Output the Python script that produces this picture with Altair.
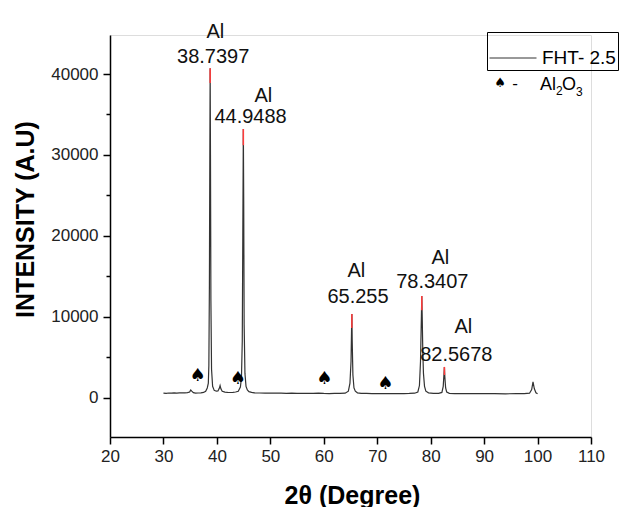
import altair as alt
import pandas as pd

# XRD pattern
two_theta = [30.0, 30.5, 31.0, 31.5, 32.0, 32.5, 33.0, 33.5, 34.0, 34.5, 34.9, 35.1, 35.3, 35.6,
             36.0, 36.5, 37.0, 37.5, 37.9, 38.2, 38.4, 38.5, 38.6, 38.68, 38.74, 38.8, 38.88,
             39.0, 39.2, 39.5,
             39.9, 40.2, 40.45, 40.6, 40.75, 41.0, 41.5, 42.0, 42.5, 43.0, 43.5, 44.0, 44.4,
             44.6, 44.75, 44.85, 44.95, 45.02, 45.1, 45.25, 45.45, 45.7, 46.0, 46.5, 47.0,
             48.0, 49.0, 50.0,
             51.0, 52.0, 53.0, 54.0, 55.0, 56.0, 57.0, 58.0, 59.0, 60.0, 61.0, 62.0, 63.0,
             64.0, 64.6, 64.9, 65.1, 65.2, 65.255, 65.32, 65.45, 65.65, 65.9, 66.3, 67.0,
             68.0, 69.0, 70.0,
             71.0, 72.0, 73.0, 74.0, 75.0, 76.0, 77.0, 77.6, 77.9, 78.1, 78.25, 78.34, 78.42,
             78.52, 78.65, 78.85, 79.1, 79.6, 80.5, 81.5, 82.1, 82.35, 82.5, 82.57, 82.65,
             82.8, 83.0, 83.5, 84.5,
             86.0, 88.0, 90.0, 92.0, 94.0, 96.0, 97.5, 98.5, 98.9, 99.15, 99.4, 99.7, 100.0]
intensity = [560, 540, 580, 560, 600, 570, 590, 610, 600, 620, 700, 950, 800, 620,
             560, 580, 600, 650, 800, 1200, 1800, 4000, 14000, 30000, 40700, 30000, 12000,
             3500, 1400, 900,
             800, 820, 1150, 1500, 1100, 800, 680, 650, 640, 660, 700, 800, 1300,
             2500, 7000, 20000, 33200, 24000, 9000, 3000, 1400, 950, 750, 650, 600,
             580, 560, 570,
             550, 560, 540, 550, 540, 520, 530, 520, 560, 520, 500, 520, 530,
             560, 800, 1800, 4500, 8500, 10350, 7000, 2800, 1200, 800, 600, 540,
             520, 510, 500,
             510, 500, 510, 500, 510, 520, 550, 700, 1500, 4500, 9500, 12560, 10000,
             6000, 3000, 1400, 800, 600, 540, 530, 650, 1400, 3000, 3800, 2600,
             1200, 700, 540, 510,
             500, 490, 500, 490, 480, 490, 500, 550, 1000, 1940, 1100, 600, 470]
series_name = "FHT- 2.5"

# labelled Al peaks
peak_pos = [38.74, 44.95, 65.255, 78.34, 82.57]
peak_black_top = [38900, 31200, 8600, 10800, 2800]
peak_top = [40700, 33200, 10350, 12560, 3800]
peak_text = ["38.7397", "44.9488", "65.255", "78.3407", "82.5678"]
num_x = [39.3, 46.3, 66.4, 80.3, 84.8]
num_y = [42100, 34700, 12440, 14300, 5280]
al_x = [39.7, 48.7, 66.1, 81.8, 86.1]
al_y = [45200, 37300, 15660, 17270, 8740]

# Al2O3 markers
spade_x = [36.4, 43.9, 60.1, 71.5]
spade_y = [2680, 2310, 2310, 1700]

FONT = "Liberation Sans"

curve = pd.DataFrame({"t": two_theta, "i": intensity, "s": [series_name] * len(two_theta)})
peaks = pd.DataFrame({"p": peak_pos, "b": peak_black_top, "top": peak_top, "txt": peak_text,
                      "nx": num_x, "ny": num_y, "ax": al_x, "ay": al_y, "al": ["Al"] * 5})
spades = pd.DataFrame({"x": spade_x, "y": spade_y, "g": ["\u2660"] * len(spade_x)})

xscale = alt.Scale(domain=[20, 110], nice=False, zero=False)
yscale = alt.Scale(domain=[-4860, 44820], nice=False, zero=False)

xaxis = alt.Axis(values=list(range(20, 111, 5)),
                 labelExpr="datum.value % 10 === 0 ? datum.label : ''",
                 tickSize={"condition": {"test": "datum.value % 10 === 0", "value": 7}, "value": 4},
                 title="2\u03b8 (Degree)", titleFontSize=25, titleFontWeight="bold", titleFont=FONT,
                 titleX=242, titleY=58, titleBaseline="middle", titleAlign="center", titleColor="black",
                 labelFontSize=17, labelFont=FONT, labelPadding=4, labelFlush=False, labelOverlap=False,
                 labelColor="#222", grid=False, domainColor="black", tickColor="black",
                 domainWidth=1.5, tickWidth=1.5)
yaxis = alt.Axis(values=list(range(0, 40001, 5000)),
                 labelExpr="datum.value % 10000 === 0 ? datum.label : ''",
                 tickSize={"condition": {"test": "datum.value % 10000 === 0", "value": 7}, "value": 4},
                 title="INTENSITY (A.U)", titleFontSize=25, titleFontWeight="bold", titleFont=FONT,
                 titleX=-85, titleY=184, titleBaseline="middle", titleAlign="center", titleAngle=270,
                 titleColor="black", format="d",
                 labelFontSize=17, labelFont=FONT, labelPadding=5, labelFlush=False, labelOverlap=False,
                 labelColor="#222", grid=False, domainColor="black", tickColor="black",
                 domainWidth=1.5, tickWidth=1.5)

line = alt.Chart(curve).mark_line(strokeWidth=1.2, clip=True).encode(
    x=alt.X("t:Q", scale=xscale, axis=xaxis),
    y=alt.Y("i:Q", scale=yscale, axis=yaxis),
    color=alt.Color("s:N", scale=alt.Scale(range=["#333333"]),
                    legend=alt.Legend(title=None, orient="none", legendX=377, legendY=-3,
                                      strokeColor="black", padding=2, symbolType="stroke",
                                      symbolSize=2209, symbolStrokeWidth=1, labelFontSize=19,
                                      labelFont=FONT, labelColor="black", labelOffset=5)),
)

red = alt.Chart(peaks).mark_rule(color="#ff3b3b", strokeWidth=1.5).encode(
    x="p:Q", y="b:Q", y2="top:Q")

nums = alt.Chart(peaks).mark_text(fontSize=20, font=FONT, color="#111", baseline="middle").encode(
    x="nx:Q", y="ny:Q", text="txt:N")
als = alt.Chart(peaks).mark_text(fontSize=20, font=FONT, color="#111", baseline="middle").encode(
    x="ax:Q", y="ay:Q", text="al:N")

spade_marks = alt.Chart(spades).mark_text(fontSize=18, font="DejaVu Sans", color="black",
                                          baseline="middle").encode(
    x="x:Q", y="y:Q", text="g:N")

# second legend row: "♠ -  Al2O3"
leg_df = pd.DataFrame({"k": [0]})
def leg_text(txt, x, y, size, fnt=FONT, align="left"):
    return alt.Chart(leg_df).mark_text(text=txt, fontSize=size, font=fnt, color="black",
                                       align=align, baseline="middle").encode(
        x=alt.value(x), y=alt.value(y))

legend_row = (leg_text("\u2660", 390, 48, 13, "DejaVu Sans", "center")
              + leg_text("-", 405, 49, 17, FONT, "center")
              + leg_text("Al", 430, 50, 18)
              + leg_text("2", 446, 56, 12)
              + leg_text("O", 452, 50, 18)
              + leg_text("3", 466, 57, 12))

chart = alt.layer(line, red, spade_marks, nums, als, legend_row).properties(
    width=481, height=402,
    padding={"left": 102, "top": 27, "right": 30, "bottom": 70},
    autosize=alt.AutoSizeParams(type="none"),
).configure_view(strokeWidth=0).configure(background="white")

chart.save("out.html", embed_options={"renderer": "svg", "actions": False})
